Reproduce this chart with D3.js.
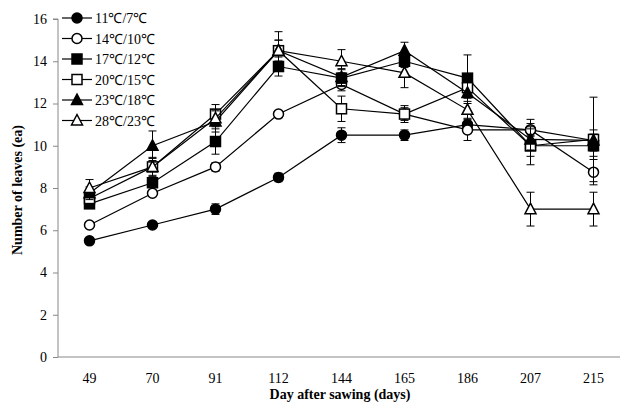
<!DOCTYPE html>
<html>
<head>
<meta charset="utf-8">
<script src="https://cdn.jsdelivr.net/npm/d3@7"></script>
<style>
  html, body { margin: 0; padding: 0; background: #fff; }
  svg { display: block; }
  text { font-family: "Times New Roman", Times, "Liberation Serif", Tinos, serif; fill: #000; }
</style>
</head>
<body>
<svg id="chart" width="620" height="405"></svg>
<script>
// Sampling days
const days = ["49", "70", "91", "112", "144", "165", "186", "207", "215"];
const yTicks = [0, 2, 4, 6, 8, 10, 12, 14, 16];

// Day/night temperature treatments
const seriesNames = ["11℃/7℃", "14℃/10℃", "17℃/12℃", "20℃/15℃", "23℃/18℃", "28℃/23℃"];
const markerShapes = ["circle", "circle", "square", "square", "triangle", "triangle"];
const markerFilled = [true, false, true, false, true, false];

// Mean number of leaves per treatment
const leaves11_7  = [5.5, 6.25, 7.0, 8.5, 10.5, 10.5, 11.0, 10.75, 10.25];
const leaves14_10 = [6.25, 7.75, 9.0, 11.5, 12.9, 11.5, 10.75, 10.75, 8.75];
const leaves17_12 = [7.25, 8.25, 10.2, 13.75, 13.2, 14.0, 13.2, 10.0, 10.0];
const leaves20_15 = [7.5, 9.0, 11.5, 14.5, 11.75, 11.5, 12.75, 10.0, 10.3];
const leaves23_18 = [7.75, 10.0, 11.15, 14.5, 13.25, 14.5, 12.5, 10.3, 10.25];
const leaves28_23 = [8.0, 9.0, 11.3, 14.5, 14.0, 13.45, 11.7, 7.0, 7.0];

// Standard errors
const se11_7  = [0.1, 0.1, 0.25, 0.2, 0.35, 0.25, 0.3, 0.3, 0.3];
const se14_10 = [0.1, 0.1, 0.2, 0.1, 0.3, 0.3, 0.5, 0.5, 0.6];
const se17_12 = [0.2, 0.2, 0.6, 0.45, 0.4, 0.3, 1.1, 0.9, 0.5];
const se20_15 = [0.3, 0.45, 0.45, 0.9, 0.6, 0.4, 0.5, 0.5, 2.0];
const se23_18 = [0.3, 0.7, 0.5, 0.5, 0.4, 0.4, 0.5, 0.5, 0.5];
const se28_23 = [0.4, 0.4, 0.4, 0.5, 0.55, 0.7, 0.7, 0.8, 0.8];

const seriesValues = [leaves11_7, leaves14_10, leaves17_12, leaves20_15, leaves23_18, leaves28_23];
const seriesErrors = [se11_7, se14_10, se17_12, se20_15, se23_18, se28_23];

const svg = d3.select("#chart");
const plotLeft = 58, plotRight = 625, plotTop = 19, plotBottom = 357;

const x = d3.scaleBand().domain(days).range([plotLeft, plotRight]);
const cx = d => x(d) + x.bandwidth() / 2;
const y = d3.scaleLinear().domain([0, 16]).range([plotBottom, plotTop]);

// Y axis
const yAxis = svg.append("g")
  .attr("transform", `translate(${plotLeft},0)`)
  .call(d3.axisLeft(y).tickValues(yTicks).tickSize(5).tickPadding(6).tickFormat(d3.format("d")));
yAxis.select(".domain").attr("stroke", "#888").attr("d", `M-5,${plotTop}H0V${plotBottom}`);
yAxis.selectAll(".tick line").attr("stroke", "#888");
yAxis.selectAll("text").style("font-size", "14px");

// X axis
const xAxis = svg.append("g")
  .attr("transform", `translate(0,${plotBottom})`)
  .call(d3.axisBottom(x).tickSize(0).tickPadding(16));
xAxis.select(".domain").attr("stroke", "#888").attr("d", `M${plotLeft},0H620`);
xAxis.selectAll("text").style("font-size", "14px");

// Axis titles
svg.append("text")
  .attr("x", 340).attr("y", 399)
  .attr("text-anchor", "middle")
  .style("font-size", "14px").style("font-weight", "bold")
  .text("Day after sawing (days)");
svg.append("text")
  .attr("transform", "translate(22,190) rotate(-90)")
  .attr("text-anchor", "middle")
  .style("font-size", "14px").style("font-weight", "bold")
  .text("Number of leaves (ea)");

function drawMarker(g, shape, filled, px, py) {
  const fill = filled ? "#000" : "#fff";
  if (shape === "circle") {
    g.append("circle").attr("cx", px).attr("cy", py).attr("r", 5)
      .attr("fill", fill).attr("stroke", "#000").attr("stroke-width", 1.5);
  } else if (shape === "square") {
    g.append("rect").attr("x", px - 5).attr("y", py - 5).attr("width", 10).attr("height", 10)
      .attr("fill", fill).attr("stroke", "#000").attr("stroke-width", 1.5);
  } else {
    g.append("path")
      .attr("d", `M${px},${py - 6}L${px + 5.5},${py + 4.5}L${px - 5.5},${py + 4.5}Z`)
      .attr("fill", fill).attr("stroke", "#000").attr("stroke-width", 1.5);
  }
}

const line = d3.line().x((d, i) => cx(days[i])).y(d => y(d));

seriesValues.forEach((vals, s) => {
  const g = svg.append("g");
  const errs = seriesErrors[s];
  // error bars
  vals.forEach((v, i) => {
    const px = cx(days[i]);
    const y1 = y(v + errs[i]), y2 = y(v - errs[i]);
    g.append("line").attr("x1", px).attr("x2", px).attr("y1", y1).attr("y2", y2)
      .attr("stroke", "#000").attr("stroke-width", 1);
    [y1, y2].forEach(yy => g.append("line")
      .attr("x1", px - 4).attr("x2", px + 4).attr("y1", yy).attr("y2", yy)
      .attr("stroke", "#000").attr("stroke-width", 1));
  });
  g.append("path").datum(vals).attr("d", line)
    .attr("fill", "none").attr("stroke", "#000").attr("stroke-width", 1.2);
  vals.forEach((v, i) => drawMarker(g, markerShapes[s], markerFilled[s], cx(days[i]), y(v)));
});

// Legend
const legend = svg.append("g");
seriesNames.forEach((name, s) => {
  const ly = 18 + s * 20.5;
  legend.append("line").attr("x1", 62).attr("x2", 92).attr("y1", ly).attr("y2", ly)
    .attr("stroke", "#000").attr("stroke-width", 1.2);
  drawMarker(legend, markerShapes[s], markerFilled[s], 77, ly);
  legend.append("text").attr("x", 95).attr("y", ly + 5)
    .style("font-size", "14px").text(name);
});
</script>
</body>
</html>
